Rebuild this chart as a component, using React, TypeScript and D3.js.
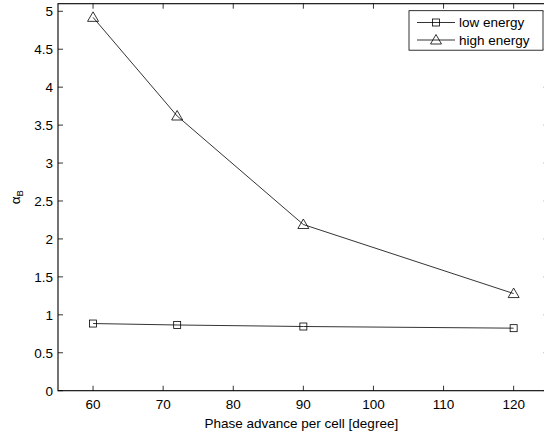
import React from "react";
import * as d3 from "d3";

const phase = [60, 72, 90, 120];
const lowEnergy = [0.885, 0.866, 0.846, 0.824];
const highEnergy = [4.92, 3.62, 2.19, 1.28];
const xTicks = [60, 70, 80, 90, 100, 110, 120];
const yTicks = [0, 0.5, 1, 1.5, 2, 2.5, 3, 3.5, 4, 4.5, 5];

const width = 544, height = 434;
const left = 58, right = 548.7, top = 3.7, bottom = 390.7;
const font = "'Liberation Sans', Arial, Helvetica, sans-serif";
const fs = 13.5;

const App = () => {
  const x = d3.scaleLinear().domain([55, 125]).range([left, right]);
  const y = d3.scaleLinear().domain([0, 5.1]).range([bottom, top]);

  const line = d3.line<number>()
    .x((d, i) => x(phase[i]))
    .y(d => y(d));

  const square = (cx: number, cy: number, k: string) => (
    <rect key={k} x={cx - 3.5} y={cy - 3.5} width={7} height={7} fill="none" stroke="black" strokeWidth={0.8} />
  );
  const triangle = (cx: number, cy: number, k: string) => (
    <path key={k} d={`M${cx},${cy - 5.5}L${cx + 5.5},${cy + 4}L${cx - 5.5},${cy + 4}Z`} fill="none" stroke="black" strokeWidth={0.8} />
  );

  const tick = 5;

  return (
    <svg width={width} height={height} style={{ position: "absolute", left: 0, top: 0 }} fontFamily={font}>
      <rect x={0} y={0} width={width} height={height} fill="white" />
      {/* ticks */}
      {xTicks.map(d => (
        <g key={"xt" + d}>
          <line x1={x(d)} x2={x(d)} y1={bottom} y2={bottom - tick} stroke="black" strokeWidth={0.8} />
          <line x1={x(d)} x2={x(d)} y1={top} y2={top + tick} stroke="black" strokeWidth={0.8} />
          <text x={x(d)} y={bottom + 18.5} textAnchor="middle" fontSize={fs}>{d}</text>
        </g>
      ))}
      {yTicks.map(d => (
        <g key={"yt" + d}>
          <line x1={left} x2={left + tick} y1={y(d)} y2={y(d)} stroke="black" strokeWidth={0.8} />
          <line x1={right} x2={right - tick} y1={y(d)} y2={y(d)} stroke="black" strokeWidth={0.8} />
          <text x={left - 5} y={y(d) + 4.8} textAnchor="end" fontSize={fs}>{d}</text>
        </g>
      ))}
      <rect x={left} y={top} width={right - left} height={bottom - top} fill="none" stroke="black" strokeWidth={1.1} />

      {/* series */}
      <path d={line(lowEnergy) ?? ""} fill="none" stroke="black" strokeWidth={0.8} />
      <path d={line(highEnergy) ?? ""} fill="none" stroke="black" strokeWidth={0.8} />
      {lowEnergy.map((d, i) => square(x(phase[i]), y(d), "s" + i))}
      {highEnergy.map((d, i) => triangle(x(phase[i]), y(d), "t" + i))}

      {/* axis labels */}
      <text x={(left + right) / 2 - 2} y={428} textAnchor="middle" fontSize={fs}>Phase advance per cell [degree]</text>
      <text transform={`translate(20,${(top + bottom) / 2}) rotate(-90)`} textAnchor="middle" fontSize={fs}>
        α<tspan fontSize={9.5} dy={3}>B</tspan>
      </text>

      {/* legend */}
      <rect x={409} y={10.7} width={134} height={39.5} fill="white" stroke="black" strokeWidth={0.8} />
      <line x1={417} x2={455} y1={22.5} y2={22.5} stroke="black" strokeWidth={0.8} />
      {square(436, 22.5, "ls")}
      <text x={459} y={27.3} fontSize={fs}>low energy</text>
      <line x1={417} x2={455} y1={40} y2={40} stroke="black" strokeWidth={0.8} />
      {triangle(436, 40, "lt")}
      <text x={459} y={44.8} fontSize={fs}>high energy</text>
    </svg>
  );
};

export default App;
